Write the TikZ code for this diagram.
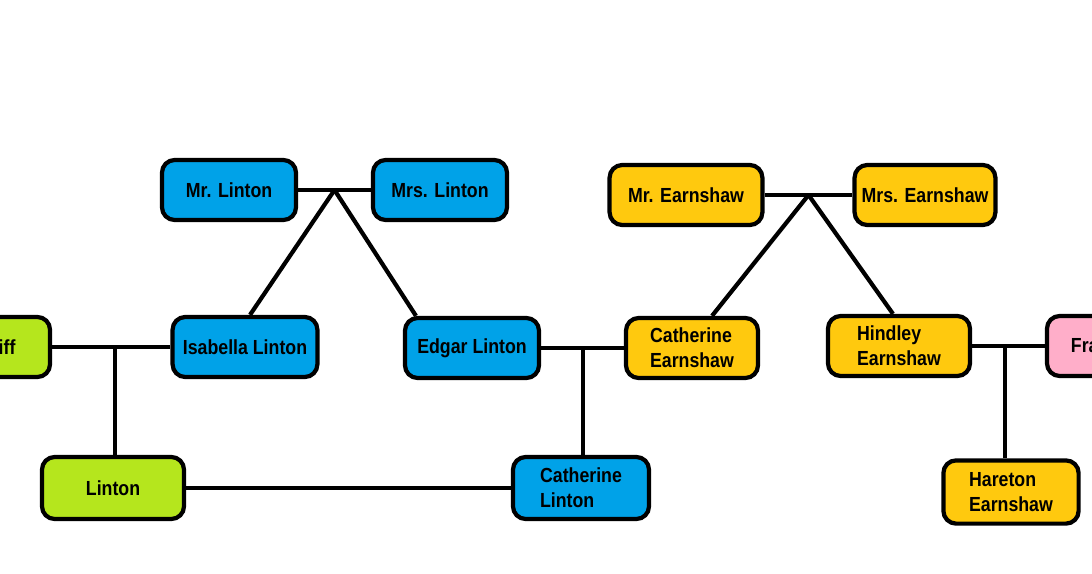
\documentclass[tikz,border=0pt]{standalone}
\usepackage{fontspec}
\setmainfont[FakeStretch=0.87]{Liberation Sans}
\usepackage{tikz}
\usetikzlibrary{calc}
\definecolor{lintonblue}{RGB}{0, 162, 232}
\definecolor{earnyellow}{RGB}{255, 201, 14}
\definecolor{heathgreen}{RGB}{181, 230, 29}
\definecolor{francespink}{RGB}{255, 174, 201}

\begin{document}
\begin{tikzpicture}[x=0.025cm, y=-0.025cm,
		person/.style={draw, line width=3pt, rounded corners=9pt, minimum height=1.5cm,
			align=left, font=\fontsize{14.5}{17.5}\bfseries\selectfont},
		link/.style={line width=3pt}]
			\useasboundingbox (0,0) rectangle (1092,573);
			% Lintons
			\node[person, fill=lintonblue, minimum width=3.35cm] (mrlinton) at (229,190) {Mr. Linton};
			\node[person, fill=lintonblue, minimum width=3.35cm] (mrslinton) at (440,190) {Mrs. Linton};
			\node[person, fill=lintonblue, minimum width=3.62cm] (isabella) at (245,347) {Isabella Linton};
			\node[person, fill=lintonblue, minimum width=3.35cm] (edgar) at (472,348) {Edgar Linton};
			\node[person, fill=lintonblue, minimum width=3.4cm, minimum height=1.55cm] (cathlinton) at (581,488) {Catherine\\Linton};
			% Earnshaws
			\node[person, fill=earnyellow, minimum width=3.82cm] (mrearnshaw) at (686,195) {Mr. Earnshaw};
			\node[person, fill=earnyellow, minimum width=3.52cm] (mrsearnshaw) at (925,195) {Mrs. Earnshaw};
			\node[person, fill=earnyellow, minimum width=3.3cm] (catherine) at (692,348) {Catherine\\Earnshaw};
			\node[person, fill=earnyellow, minimum width=3.55cm] (hindley) at (899,346) {Hindley\\Earnshaw};
			\node[person, fill=earnyellow, minimum width=3.38cm, minimum height=1.58cm] (hareton) at (1011,492) {Hareton\\Earnshaw};
			% others
			\node[person, fill=heathgreen, minimum width=3.75cm] (heathcliff) at (-25,347) {Heathcliff};
			\node[person, fill=heathgreen, minimum width=3.55cm, minimum height=1.55cm] (linton) at (113,488) {Linton};
			\node[person, fill=francespink, minimum width=2.9cm] (frances) at (1105,346) {Frances};

			% parents
			\coordinate (lintons) at ($(mrlinton.east)!0.5!(mrslinton.west)$);
			\coordinate (earnshaws) at ($(mrearnshaw.east)!0.5!(mrsearnshaw.west)$);
			\draw[link] (mrlinton.east) -- (mrslinton.west);
			\draw[link] (lintons) -- ([xshift=0.125cm]isabella.north);
			\draw[link] (lintons) -- ([xshift=-1.4cm]edgar.north);
			\draw[link] (mrearnshaw.east) -- (mrsearnshaw.west);
			\draw[link] (earnshaws) -- ([xshift=0.5cm]catherine.north);
			\draw[link] (earnshaws) -- ([xshift=-0.15cm]hindley.north);

			% marriages and children
			\draw[link] (heathcliff) -- (isabella);
			\draw[link] ([xshift=0.05cm]linton.north) -- ([xshift=0.05cm]linton |- isabella);
			\draw[link] (edgar) -- (catherine);
			\draw[link] ([xshift=0.05cm]cathlinton.north) -- ([xshift=0.05cm]cathlinton |- edgar);
			\draw[link] (hindley) -- (frances);
			\draw[link] ([xshift=-0.15cm]hareton.north) -- ([xshift=-0.15cm]hareton |- hindley);
			\draw[link] (linton) -- (cathlinton);
		\end{tikzpicture}
\end{document}
